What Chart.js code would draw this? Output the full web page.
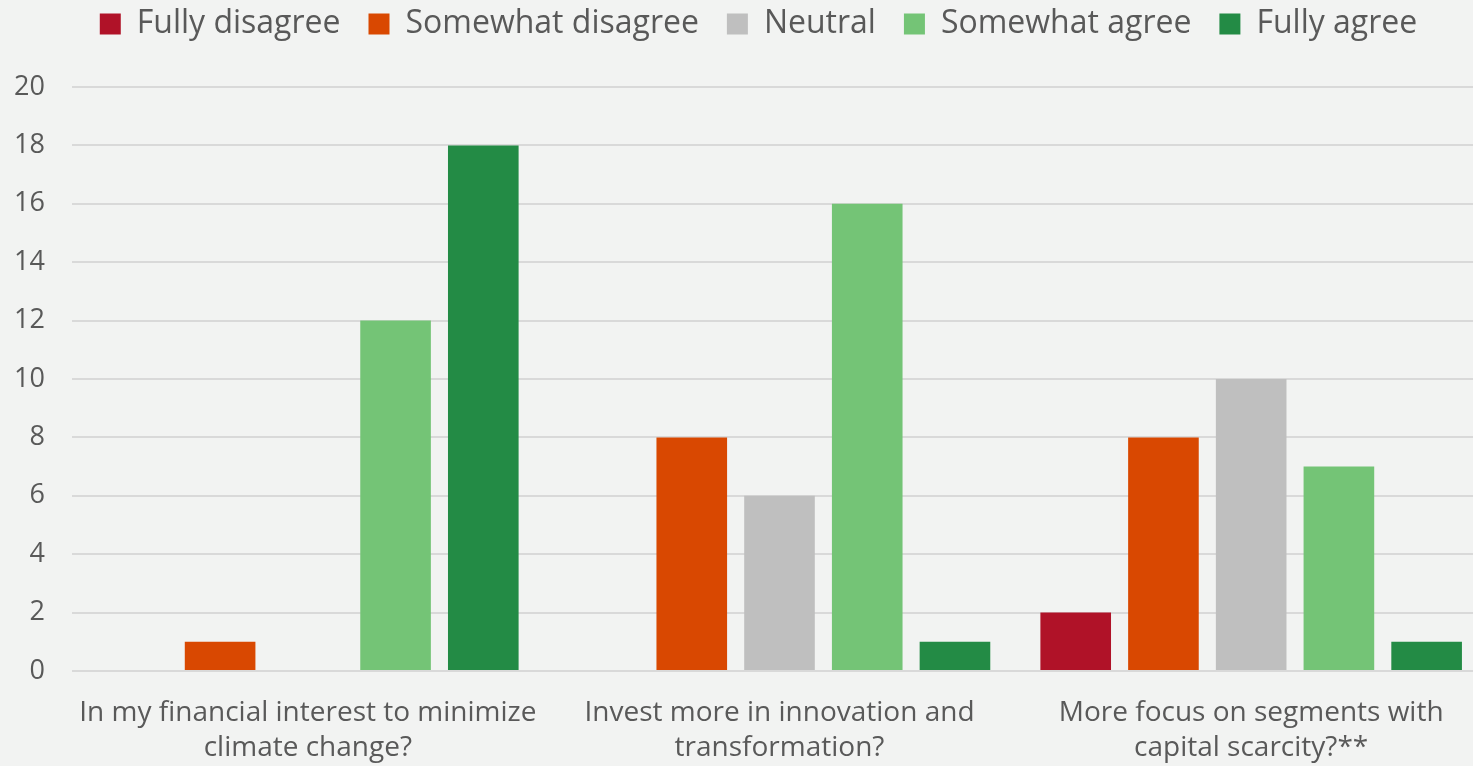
<!DOCTYPE html>
<html>
<head>
<meta charset="utf-8">
<script src="https://cdn.jsdelivr.net/npm/chart.js@4.4.0/dist/chart.umd.min.js"></script>
<style>
  html, body { margin: 0; padding: 0; overflow: hidden; background: #f2f3f2; }
  canvas { display: block; }
</style>
</head>
<body>
<canvas id="surveyChart" width="1487" height="766"></canvas>
<script>
// survey questions (x axis) and answer counts per answer level
const questions = [
    ['In my financial interest to minimize', 'climate change?'],
    ['Invest more in innovation and', 'transformation?'],
    ['More focus on segments with', 'capital scarcity?**']
];
const answerLevels = ['Fully disagree', 'Somewhat disagree', 'Neutral', 'Somewhat agree', 'Fully agree'];
const fullyDisagree    = [0, 0, 2];
const somewhatDisagree = [1, 8, 8];
const neutral          = [0, 6, 10];
const somewhatAgree    = [12, 16, 7];
const fullyAgree       = [18, 1, 1];
const yTicks = [0, 2, 4, 6, 8, 10, 12, 14, 16, 18, 20];

const levelColors = ['#b01228', '#d94801', '#bfbfbf', '#74c476', '#238b45'];
const seriesValues = [fullyDisagree, somewhatDisagree, neutral, somewhatAgree, fullyAgree];

const textColor = '#595959';
const fontFamily = '"Open Sans", sans-serif';

// push the plot area down below the legend, and nudge the legend right a bit
const legendGap = {
    id: 'legendGap',
    beforeInit(chart) {
        const origFit = chart.legend.fit;
        chart.legend.fit = function () {
            origFit.bind(chart.legend)();
            this.height += 37;
        };
    },
    afterLayout(chart) {
        chart.legend.left += 15;
        chart.legend.right += 15;
    }
};

const ctx = document.getElementById('surveyChart').getContext('2d');
new Chart(ctx, {
    type: 'bar',
    data: {
        labels: questions,
        datasets: answerLevels.map((name, i) => ({
            label: name,
            data: seriesValues[i],
            backgroundColor: levelColors[i],
            borderWidth: 0,
            categoryPercentage: 0.93,
            barPercentage: 0.805
        }))
    },
    options: {
        responsive: false,
        animation: false,
        layout: { padding: { top: -20, bottom: -17, left: 0, right: 0 } },
        plugins: {
            legend: {
                position: 'top',
                labels: {
                    boxWidth: 21,
                    boxHeight: 21,
                    padding: 28,
                    color: textColor,
                    font: { family: fontFamily, size: 32 }
                }
            },
            tooltip: { enabled: false }
        },
        scales: {
            x: {
                grid: { display: false },
                border: { display: false },
                ticks: {
                    color: textColor,
                    padding: 17,
                    maxRotation: 0,
                    font: { family: fontFamily, size: 28, lineHeight: 1.25 }
                }
            },
            y: {
                min: 0,
                max: 20,
                afterBuildTicks(scale) {
                    scale.ticks = yTicks.map(v => ({ value: v }));
                },
                afterFit(scale) {
                    scale.width = 72;
                },
                grid: { color: '#d9d9d9', lineWidth: 2, drawTicks: false },
                border: { display: false },
                ticks: {
                    color: textColor,
                    padding: 27,
                    font: { family: fontFamily, size: 27 }
                }
            }
        }
    },
    plugins: [legendGap]
});
</script>
</body>
</html>
